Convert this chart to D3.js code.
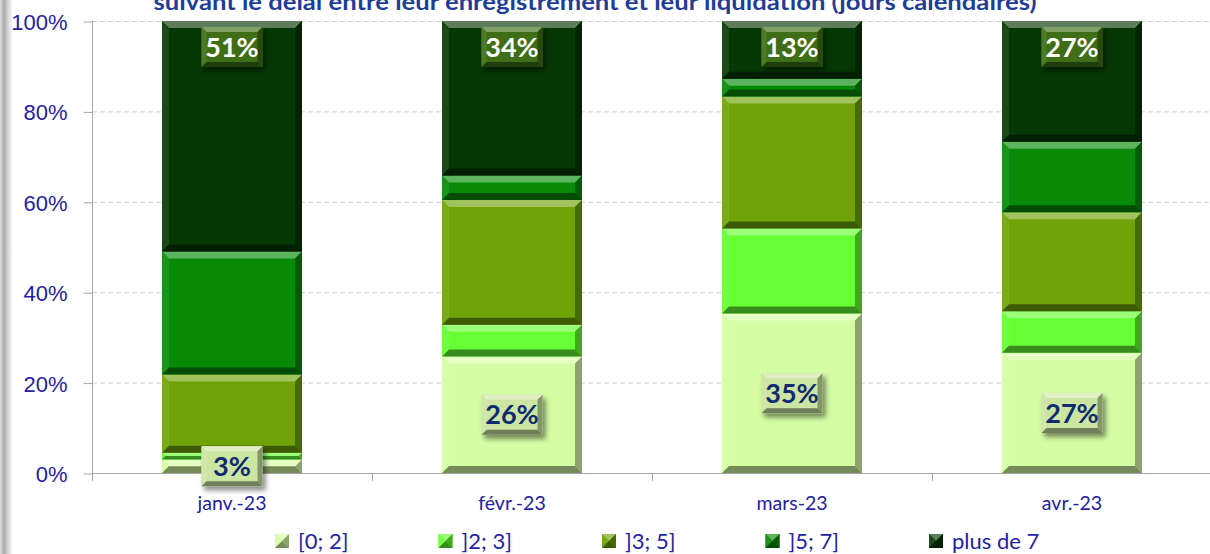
<!DOCTYPE html>
<html>
<head>
<meta charset="utf-8">
<script src="https://cdn.jsdelivr.net/npm/d3@7"></script>
<style>
  body { margin: 0; background: #fff; }
  svg { display: block; font-family: Lato, "Noto Sans", sans-serif; }
</style>
</head>
<body>
<div id="chart"></div>
<script>
// months on the x axis
let months = ["janv.-23", "févr.-23", "mars-23", "avr.-23"];
// series (percent of files per delay bucket)
let seriesNames = ["[0; 2]", "]2; 3]", "]3; 5]", "]5; 7]", "plus de 7"];
let d0to2 = [3.0, 25.8, 35.3, 26.6];
let d2to3 = [1.5, 7.0, 18.8, 9.2];
let d3to5 = [17.3, 27.6, 29.2, 21.9];
let d5to7 = [27.2, 5.4, 3.9, 15.6];
let dOver7 = [51.0, 34.2, 12.8, 26.7];
let yTicks = [0, 20, 40, 60, 80, 100];
let titleText = "suivant le délai entre leur enregistrement et leur liquidation (jours calendaires)";

let seriesValues = [d0to2, d2to3, d3to5, d5to7, dOver7];
let seriesColors = ["#d5fda4", "#66ff33", "#6fa307", "#068a08", "#053805"];

let width = 1210, height = 554;
let margin = { top: 21, right: -2, bottom: 81, left: 92 };

let svg = d3.select("#chart").append("svg").attr("width", width).attr("height", height);

let defs = svg.append("defs");
let shadow = defs.append("filter").attr("id", "shadow")
  .attr("x", "-30%").attr("y", "-30%").attr("width", "170%").attr("height", "170%");
shadow.append("feDropShadow").attr("dx", 3).attr("dy", 4).attr("stdDeviation", 2.5)
  .attr("flood-color", "#000").attr("flood-opacity", 0.45);

let frameGrad = defs.append("linearGradient").attr("id", "frame");
frameGrad.append("stop").attr("offset", "0%").attr("stop-color", "#dedede");
frameGrad.append("stop").attr("offset", "35%").attr("stop-color", "#a9a9a9");
frameGrad.append("stop").attr("offset", "60%").attr("stop-color", "#cfcfcf");
frameGrad.append("stop").attr("offset", "100%").attr("stop-color", "#f6f6f6");

let x = d3.scaleBand()
  .domain(months)
  .range([margin.left, width - margin.right])
  .paddingInner(0.5)
  .paddingOuter(0.25);

let y = d3.scaleLinear().domain([0, 100]).range([height - margin.bottom, margin.top]);

// stacked data
let table = months.map(function (m, i) {
  let row = { month: m };
  seriesNames.forEach(function (s, k) { row[s] = seriesValues[k][i]; });
  return row;
});
let stack = d3.stack().keys(seriesNames)(table);

// left frame shadow
svg.append("rect").attr("x", 0).attr("y", 0).attr("width", 12).attr("height", height)
  .attr("fill", "url(#frame)");

// gridlines
svg.append("g").selectAll("line")
  .data(yTicks.filter(function (d) { return d > 0; }))
  .enter().append("line")
  .attr("x1", margin.left).attr("x2", width)
  .attr("y1", function (d) { return y(d) + 0.5; })
  .attr("y2", function (d) { return y(d) + 0.5; })
  .attr("stroke", "#cfcfcf")
  .attr("stroke-dasharray", "5,3");

// y axis
let yAxis = d3.axisLeft(y)
  .tickValues(yTicks)
  .tickFormat(function (d) { return d + "%"; })
  .tickSize(9)
  .tickPadding(16);
let yg = svg.append("g").attr("transform", "translate(" + (margin.left + 0.5) + ",0.5)").call(yAxis);
yg.select(".domain").remove();
yg.selectAll(".tick line").attr("stroke", "#a6a6a6");
yg.selectAll(".tick text")
  .attr("fill", "#2222a6")
  .style("font-size", "22px")
  .attr("dy", "0.36em");
svg.append("line")
  .attr("x1", margin.left + 0.5).attr("x2", margin.left + 0.5)
  .attr("y1", y(100)).attr("y2", y(0) + 8)
  .attr("stroke", "#a6a6a6");

// x axis line and boundary ticks
svg.append("line")
  .attr("x1", margin.left).attr("x2", width)
  .attr("y1", y(0) + 0.5).attr("y2", y(0) + 0.5)
  .attr("stroke", "#a6a6a6");
svg.append("g").selectAll("line")
  .data(d3.range(months.length + 1))
  .enter().append("line")
  .attr("x1", function (i) { return margin.left + i * x.step() + 0.5; })
  .attr("x2", function (i) { return margin.left + i * x.step() + 0.5; })
  .attr("y1", y(0)).attr("y2", y(0) + 8)
  .attr("stroke", "#a6a6a6");

svg.append("g").selectAll("text")
  .data(months)
  .enter().append("text")
  .attr("x", function (d) { return x(d) + x.bandwidth() / 2; })
  .attr("y", y(0) + 37)
  .attr("text-anchor", "middle")
  .attr("fill", "#2222a6")
  .style("font-size", "19.5px")
  .text(function (d) { return d; });

// bevelled block, like the excel "bevel" shape effect
function bevel(g, x0, y0, w, h, color, maxB) {
  let b = Math.max(0, Math.min(maxB, h / 2, w / 2));
  let x1 = x0 + w, y1 = y0 + h;
  let c = d3.color(color);
  let light = d3.interpolateRgb(color, "#ffffff");
  let dark = d3.interpolateRgb(color, "#000000");
  g.append("rect").attr("x", x0).attr("y", y0).attr("width", w).attr("height", h).attr("fill", c);
  let faces = [
    { pts: [[x0, y0], [x1, y0], [x1 - b, y0 + b], [x0 + b, y0 + b]], fill: light(0.35) },
    { pts: [[x0, y0], [x0 + b, y0 + b], [x0 + b, y1 - b], [x0, y1]], fill: light(0.08) },
    { pts: [[x1, y0], [x1, y1], [x1 - b, y1 - b], [x1 - b, y0 + b]], fill: dark(0.35) },
    { pts: [[x0, y1], [x0 + b, y1 - b], [x1 - b, y1 - b], [x1, y1]], fill: dark(0.45) }
  ];
  g.selectAll(null).data(faces).enter().append("polygon")
    .attr("points", function (f) { return f.pts.map(function (p) { return p.join(","); }).join(" "); })
    .attr("fill", function (f) { return f.fill; });
}

// bars
let layers = svg.append("g").selectAll("g")
  .data(stack)
  .enter().append("g");

layers.each(function (layer, k) {
  let g = d3.select(this);
  layer.forEach(function (d) {
    let x0 = x(d.data.month);
    let yTop = y(d[1]);
    let h = y(d[0]) - y(d[1]);
    bevel(g, x0, yTop, x.bandwidth(), h, seriesColors[k], 7);
  });
});

// data labels
function labelBox(cx, cy, txt, boxColor, textColor) {
  let g = svg.append("g").attr("filter", "url(#shadow)");
  bevel(g, cx - 30.5, cy - 20, 61, 40, boxColor, 5);
  svg.append("text")
    .attr("x", cx).attr("y", cy)
    .attr("dy", "0.36em")
    .attr("text-anchor", "middle")
    .attr("fill", textColor)
    .style("font-size", "27px")
    .style("font-weight", "bold")
    .text(txt);
}

let firstLayer = stack[0];
let lastLayer = stack[stack.length - 1];
firstLayer.forEach(function (d) {
  let cx = x(d.data.month) + x.bandwidth() / 2;
  labelBox(cx, (y(d[0]) + y(d[1])) / 2, Math.round(d[1] - d[0]) + "%", "#cde5a3", "#0d2b6e");
});
lastLayer.forEach(function (d) {
  let cx = x(d.data.month) + x.bandwidth() / 2;
  labelBox(cx, y(d[1]) + 26, Math.round(d[1] - d[0]) + "%", "#3f6e14", "#ffffff");
});

// legend
let legend = svg.append("g").selectAll("g")
  .data(seriesNames)
  .enter().append("g")
  .attr("transform", function (d, i) { return "translate(" + (275 + i * 163.5) + ",534)"; });
legend.each(function (d, i) {
  bevel(d3.select(this), 0, 0, 14, 14, seriesColors[i], 7);
});
legend.append("text")
  .attr("x", 23).attr("y", 7)
  .attr("dy", "0.36em")
  .attr("fill", "#2222a6")
  .style("font-size", "22px")
  .text(function (d) { return d; });

// title (second line, partly cut at the top)
svg.append("text")
  .attr("x", 595).attr("y", 10)
  .attr("text-anchor", "middle")
  .attr("fill", "#1d3d99")
  .style("font-size", "23px")
  .style("font-weight", "bold")
  .attr("textLength", 883)
  .attr("lengthAdjust", "spacingAndGlyphs")
  .text(titleText);
</script>
</body>
</html>
